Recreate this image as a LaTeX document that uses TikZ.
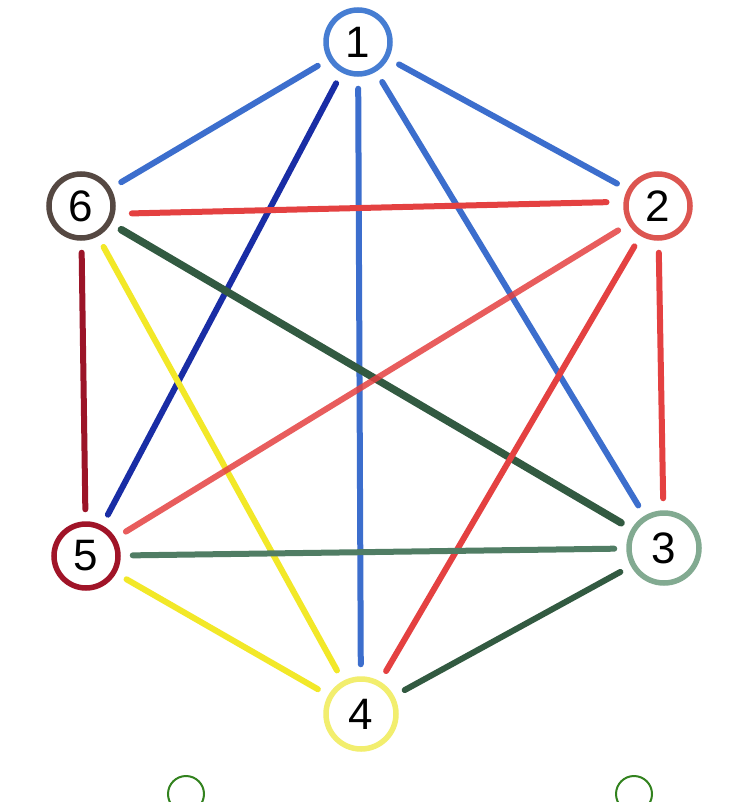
\documentclass[tikz,border=0pt]{standalone}
\usepackage{fontspec}
\setmainfont{Liberation Sans}
\definecolor{cA}{RGB}{70,125,210}
\definecolor{cB}{RGB}{220,85,80}
\definecolor{cC}{RGB}{130,170,145}
\definecolor{cD}{RGB}{242,238,110}
\definecolor{cE}{RGB}{160,20,40}
\definecolor{cF}{RGB}{85,72,66}
\definecolor{eBlue}{RGB}{60,110,205}
\definecolor{eDBlue}{RGB}{25,45,165}
\definecolor{eRed}{RGB}{228,65,65}
\definecolor{eDGreen}{RGB}{50,90,65}
\definecolor{eGreen}{RGB}{80,125,100}
\definecolor{eDRed}{RGB}{155,20,40}
\definecolor{eYellow}{RGB}{242,232,40}
\definecolor{smallg}{RGB}{50,130,30}
\begin{document}
\begin{tikzpicture}[x=1pt,y=-1pt,
  vtx/.style={circle,line width=5.5pt,minimum size=64pt,inner sep=0pt,font=\fontsize{44}{44}\selectfont},
  edge/.style={line width=6pt,line cap=round,shorten <=12pt,shorten >=12pt},
  small/.style={circle,draw=smallg,line width=2pt,minimum size=36pt,inner sep=0pt}]
\useasboundingbox[fill=white] (0,0) rectangle (746,802);
\node[vtx,draw=cA] (n1) at (358,42) {1};
\node[vtx,draw=cB] (n2) at (658,206) {2};
\node[vtx,draw=cC,minimum size=70pt] (n3) at (664,548) {3};
\node[vtx,draw=cD,minimum size=70pt] (n4) at (361,714) {4};
\node[vtx,draw=cE] (n5) at (86,556) {5};
\node[vtx,draw=cF] (n6) at (81,206) {6};
\node[small] (s1) at (186,794) {};
\node[small] (s2) at (634,794) {};
\draw[edge,eBlue] (n1) -- (n6);
\draw[edge,eBlue] (n1) -- (n2);
\draw[edge,eDBlue] (n1) -- (n5);
\draw[edge,eBlue] (n1) -- (n4);
\draw[edge,eBlue] (n1) -- (n3);
\draw[edge,eRed,shorten <=17pt,shorten >=17pt] (n6.-13) -- (n2.173);
\draw[edge,eDGreen,line width=7.5pt] (n6) -- (n3);
\draw[edge,eDRed] (n6) -- (n5);
\draw[edge,eYellow] (n6) -- (n4);
\draw[edge,eRed,opacity=0.85] (n2) -- (n5);
\draw[edge,eRed] (n2) -- (n4);
\draw[edge,eRed] (n2) -- (n3);
\draw[edge,eGreen] (n5) -- (n3);
\draw[edge,eYellow] (n5) -- (n4);
\draw[edge,eDGreen] (n3) -- (n4);
\end{tikzpicture}
\end{document}
